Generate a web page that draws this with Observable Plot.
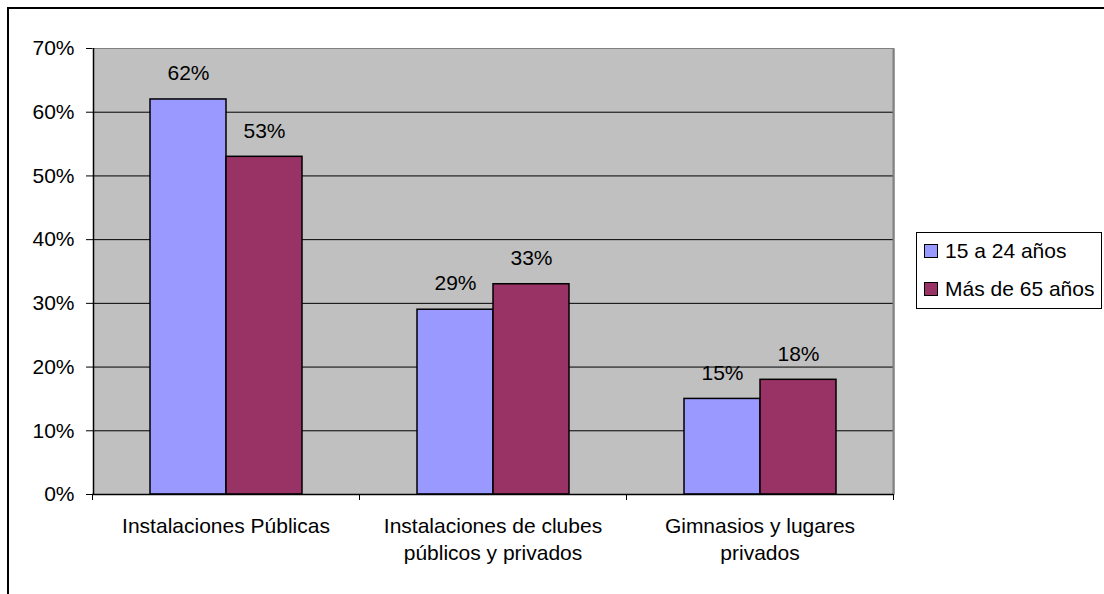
<!DOCTYPE html>
<html>
<head>
<meta charset="utf-8">
<script src="https://cdn.jsdelivr.net/npm/d3@7"></script>
<script src="https://cdn.jsdelivr.net/npm/@observablehq/plot@0.6"></script>
<style>
  html, body { margin: 0; padding: 0; background: #fff; overflow: hidden; width: 1104px; height: 594px; }
  body { position: relative; font-family: "Liberation Sans", Arial, sans-serif; }
  #border { position: absolute; left: 7px; top: 7px; width: 1200px; height: 700px; border: 2px solid #000; }
  #chart { position: absolute; left: 0; top: 0; }
  #legend { position: absolute; left: 916px; top: 232px; width: 186px; height: 77px; border: 1px solid #000; background: #fff; box-sizing: border-box; font-size: 21px; color: #000; }
  .item { position: absolute; left: 7px; display: flex; align-items: center; white-space: nowrap; }
  .sw { width: 12px; height: 12px; border: 1px solid #000; margin-right: 7px; }
</style>
</head>
<body>
<div id="border"></div>
<div id="chart"></div>
<div id="legend"></div>
<script>
const categories = ["Instalaciones Públicas", "Instalaciones de clubes públicos y privados", "Gimnasios y lugares privados"];
const categoryLabels = ["Instalaciones Públicas", "Instalaciones de clubes\npúblicos y privados", "Gimnasios y lugares\nprivados"];
const seriesNames = ["15 a 24 años", "Más de 65 años"];
const seriesColors = ["#9999FF", "#993366"];
const values15a24 = [0.62, 0.29, 0.15];
const valuesMas65 = [0.53, 0.33, 0.18];
const yTicks = [0, 0.1, 0.2, 0.3, 0.4, 0.5, 0.6, 0.7];

const data = [];
categories.forEach((c, i) => {
  data.push({cat: c, series: seriesNames[0], value: values15a24[i]});
  data.push({cat: c, series: seriesNames[1], value: valuesMas65[i]});
});
const labelOf = new Map(categories.map((c, i) => [c, categoryLabels[i]]));
const pct = d3.format(".0%");

const chart = Plot.plot({
  width: 1104,
  height: 594,
  marginLeft: 92,
  marginRight: 211,
  marginTop: 48,
  marginBottom: 100,
  style: {fontFamily: "Liberation Sans, Arial, sans-serif", color: "#000", background: "transparent"},
  fx: {domain: categories, padding: 0, axis: null, label: null},
  x: {domain: seriesNames, paddingInner: 0, paddingOuter: 0.734, axis: null, label: null},
  y: {domain: [0, 0.7], axis: null, label: null},
  color: {domain: seriesNames, range: seriesColors},
  marks: [
    Plot.frame({fill: "#C0C0C0", stroke: null, insetRight: -1, shapeRendering: "crispEdges"}),
    Plot.gridY(yTicks.filter(t => t > 0 && t < 0.7), {stroke: "#000", strokeOpacity: 1, strokeWidth: 1}),
    Plot.ruleY([0.7], {stroke: "#808080", strokeWidth: 1}),
    Plot.ruleX([categories[categories.length - 1]], {fx: d => d, x: () => seriesNames[1], dx: 95, y1: 0, y2: 0.7, stroke: "#808080", strokeWidth: 2}),
    Plot.barY(data, {fx: "cat", x: "series", y: "value", fill: "series", stroke: "#000", strokeWidth: 1.5}),
    Plot.ruleY([0], {stroke: "#000", strokeWidth: 1.5}),
    Plot.ruleX([categories[0]], {fx: d => d, x: () => seriesNames[0], dx: -95, y1: 0, y2: 0.7, stroke: "#000", strokeWidth: 1.5}),
    Plot.text(data, {fx: "cat", x: "series", y: "value", text: d => pct(d.value), dy: -26, fontSize: 21, fill: "#000"}),
    Plot.axisY(yTicks, {anchor: "left", tickSize: 6, tickPadding: 12, tickFormat: pct, fontSize: 21, label: null}),
    Plot.axisFx({anchor: "bottom", tickSize: 6, text: null, dx: -133.5, label: null}),
    Plot.axisFx([categories[categories.length - 1]], {anchor: "bottom", tickSize: 6, text: null, dx: 133.5, label: null}),
    Plot.axisFx({anchor: "bottom", tickSize: 0, tickPadding: 19, fontSize: 21, lineHeight: 1.3, tickFormat: d => labelOf.get(d), label: null})
  ]
});
document.getElementById("chart").appendChild(chart);

const legend = document.getElementById("legend");
seriesNames.forEach((s, i) => {
  const item = document.createElement("div");
  item.className = "item";
  item.style.top = (i === 0 ? 6 : 44) + "px";
  const sw = document.createElement("div");
  sw.className = "sw";
  sw.style.background = seriesColors[i];
  const label = document.createElement("span");
  label.textContent = s;
  item.appendChild(sw);
  item.appendChild(label);
  legend.appendChild(item);
});
</script>
</body>
</html>
